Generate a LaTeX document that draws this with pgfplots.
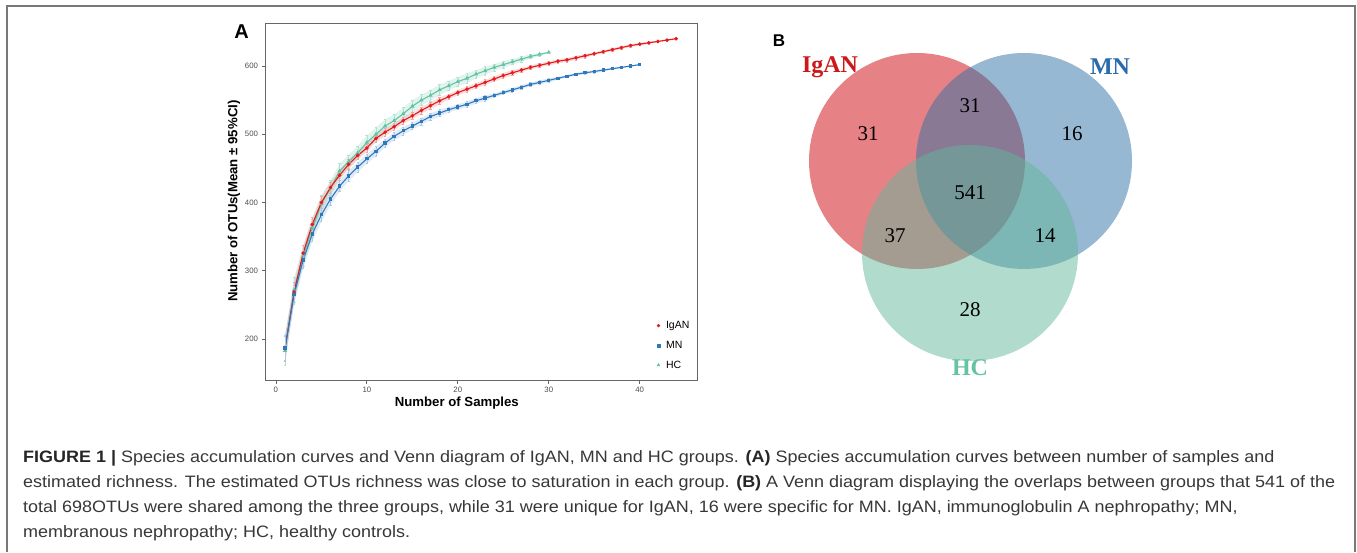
\documentclass[border=0pt]{standalone}
\usepackage{fontspec}
\setmainfont{Liberation Sans}
\newfontfamily\vennfont{Liberation Serif}
\newfontfamily\capfont[FakeStretch=1.09]{Liberation Sans}
\usepackage{pgfplots}
\usepackage{pgfplotstable}
\pgfplotsset{compat=1.18}
\usepgfplotslibrary{fillbetween}

\definecolor{iganc}{RGB}{228,26,28}
\definecolor{mnc}{RGB}{46,120,190}
\definecolor{hcc}{RGB}{102,194,165}
\definecolor{vred}{RGB}{205,5,11}
\definecolor{vblue}{RGB}{45,113,165}
\definecolor{vgreen}{RGB}{99,183,155}
\definecolor{framec}{RGB}{120,120,120}
\definecolor{capc}{RGB}{55,55,55}

% x = samples, y = mean OTUs, e = half width of 95% CI
\pgfplotstableread{
x y e
1 186 18
2 269 14
3 326 11
4 368 10
5 400 9
6 422 8
7 440 7
8 456 7
9 469 6
10 480 6
11 494 6
12 503 6
13 511 5
14 520 5
15 527 5
16 535 5
17 542 5
18 549 5
19 555 4
20 561 4
21 566 4
22 571 4
23 576 4
24 581 4
25 586 4
26 590 4
27 594 3
28 598 3
29 601 3
30 604 3
31 607 3
32 609 3
33 612 3
34 615 3
35 618 2
36 621 2
37 624 2
38 627 2
39 630 2
40 632 2
41 634 2
42 636 1
43 638 1
44 640 0
}\igan

\pgfplotstableread{
x y e
1 187 18
2 265 14
3 316 12
4 354 11
5 382 10
6 405 9
7 424 8
8 439 8
9 452 7
10 464 7
11 475 7
12 487 6
13 497 6
14 505 6
15 512 5
16 519 5
17 526 5
18 531 5
19 536 4
20 540 4
21 544 4
22 549 4
23 553 4
24 557 3
25 561 3
26 565 3
27 569 3
28 573 3
29 576 3
30 579 3
31 582 2
32 585 2
33 588 2
34 590 2
35 592 2
36 594 2
37 596 1
38 598 1
39 600 1
40 602 0
}\mn

\pgfplotstableread{
x y e
1 183 22
2 272 18
3 322 15
4 362 13
5 398 12
6 421 11
7 446 11
8 460 10
9 473 10
10 488 10
11 500 10
12 512 10
13 520 9
14 530 9
15 541 9
16 550 8
17 557 8
18 565 8
19 571 7
20 577 7
21 582 7
22 588 6
23 593 6
24 598 5
25 602 5
26 606 4
27 610 4
28 614 3
29 617 2
30 620 0
}\hc

\begin{document}
\begin{tikzpicture}
\path (0pt,0pt) rectangle (1357pt,-552pt);
% figure frame, open at the bottom
\draw[framec, line width=1.5pt] (7pt,-552pt) -- (7pt,-6pt) -- (1355pt,-6pt) -- (1355pt,-552pt);

\begin{axis}[
  at={(265pt,-380pt)}, anchor=south west,
  scale only axis, width=432pt, height=357pt,
  xmin=-1.2, xmax=46.3, ymin=140, ymax=663,
  xtick={0,10,20,30,40}, ytick={200,300,400,500,600},
  axis line style={black!60, line width=0.9pt},
  tick align=outside, xtick pos=left, ytick pos=left,
  major tick length=3.5pt,
  tick style={black!60, line width=0.8pt},
  tick label style={font=\fontsize{7.8}{9}\selectfont, text=black!70},
  /pgf/number format/assume math mode=true,
  xlabel={Number of Samples}, ylabel={Number of OTUs(Mean ± 95\%CI)},
  every axis x label/.style={at={(axis description cs:0.444,-0.0644)}, anchor=center,
    font=\fontsize{13.2}{15}\selectfont\bfseries},
  every axis y label/.style={at={(axis description cs:-0.0718,0.501)}, rotate=90, anchor=center,
    font=\fontsize{13.2}{15}\selectfont\bfseries},
  legend style={at={(axis description cs:0.9,0.175)}, anchor=north west, draw=none, fill=none,
    font=\fontsize{10.5}{12}\selectfont, row sep=8pt, nodes={inner xsep=2pt, inner ysep=1.5pt},
    /tikz/every odd column/.append style={column sep=4pt}},
  legend cell align=left,
]
% confidence ribbons
\addplot[name path=igu, draw=none, forget plot] table[x=x, y expr=\thisrow{y}+\thisrow{e}] {\igan};
\addplot[name path=igl, draw=none, forget plot] table[x=x, y expr=\thisrow{y}-\thisrow{e}] {\igan};
\addplot[fill=iganc, fill opacity=0.15, draw=none, forget plot] fill between[of=igu and igl];
\addplot[name path=mnu, draw=none, forget plot] table[x=x, y expr=\thisrow{y}+\thisrow{e}] {\mn};
\addplot[name path=mnl, draw=none, forget plot] table[x=x, y expr=\thisrow{y}-\thisrow{e}] {\mn};
\addplot[fill=mnc, fill opacity=0.15, draw=none, forget plot] fill between[of=mnu and mnl];
\addplot[name path=hcu, draw=none, forget plot] table[x=x, y expr=\thisrow{y}+\thisrow{e}] {\hc};
\addplot[name path=hcl, draw=none, forget plot] table[x=x, y expr=\thisrow{y}-\thisrow{e}] {\hc};
\addplot[fill=hcc, fill opacity=0.2, draw=none, forget plot] fill between[of=hcu and hcl];
% curves
\addplot[hcc, line width=1.1pt, mark=triangle*, mark size=1.4pt, forget plot,
  error bars/.cd, y dir=both, y explicit,
  error bar style={hcc!50, line width=0.4pt}]
  table[x=x, y=y, y error=e] {\hc};
\addplot[iganc, line width=1.1pt, mark=*, mark size=1.2pt, forget plot,
  error bars/.cd, y dir=both, y explicit,
  error bar style={iganc!40, line width=0.4pt}]
  table[x=x, y=y, y error=e] {\igan};
\addplot[mnc, line width=1.1pt, mark=square*, mark size=1.1pt, forget plot,
  error bars/.cd, y dir=both, y explicit,
  error bar style={mnc!40, line width=0.4pt}]
  table[x=x, y=y, y error=e] {\mn};
\addlegendimage{only marks, iganc, mark=*, mark size=1.5pt}
\addlegendentry{IgAN}
\addlegendimage{only marks, mnc, mark=square*, mark size=1.4pt}
\addlegendentry{MN}
\addlegendimage{only marks, hcc, mark=triangle*, mark size=1.7pt}
\addlegendentry{HC}
\end{axis}

\node[font=\fontsize{20}{20}\selectfont\bfseries] at (241.5pt,-32pt) {A};
\node[font=\fontsize{17}{17}\selectfont\bfseries] at (779pt,-41pt) {B};

% Venn diagram
\fill[vred, opacity=0.5] (917pt,-161pt) circle (108pt);
\fill[vblue, opacity=0.5] (1024pt,-161pt) circle (108pt);
\fill[vgreen, opacity=0.5] (970pt,-253pt) circle (108pt);
\begin{scope}[every node/.style={font=\vennfont\fontsize{21}{21}\selectfont}]
\node at (868pt,-134pt) {31};
\node at (970pt,-106pt) {31};
\node at (1072pt,-134pt) {16};
\node at (970pt,-193pt) {541};
\node at (895pt,-236pt) {37};
\node at (1045pt,-236pt) {14};
\node at (970pt,-310pt) {28};
\end{scope}
\begin{scope}[every node/.style={font=\vennfont\fontsize{24}{24}\selectfont\bfseries}]
\node[text=iganc!90!black] at (830pt,-67pt) {IgAN};
\node[text=mnc!90!black] at (1110pt,-67pt) {MN};
\node[text=hcc] at (970pt,-368pt) {HC};
\end{scope}

% caption
\begin{scope}[every node/.style={anchor=base west, inner sep=0pt, text=capc, font=\capfont\fontsize{16.5}{17}\selectfont}]
\node at (23pt,-462pt) {\textbf{\color{black!85}FIGURE 1 |} Species accumulation curves and Venn diagram of IgAN, MN and HC groups. \textbf{\color{black!85}(A)} Species accumulation curves between number of samples and};
\node at (23pt,-487pt) {estimated richness. The estimated OTUs richness was close to saturation in each group. \textbf{\color{black!85}(B)} A Venn diagram displaying the overlaps between groups that 541 of the};
\node at (23pt,-512pt) {total 698OTUs were shared among the three groups, while 31 were unique for IgAN, 16 were specific for MN. IgAN, immunoglobulin A nephropathy; MN,};
\node at (23pt,-537pt) {membranous nephropathy; HC, healthy controls.};
\end{scope}
\end{tikzpicture}
\end{document}
